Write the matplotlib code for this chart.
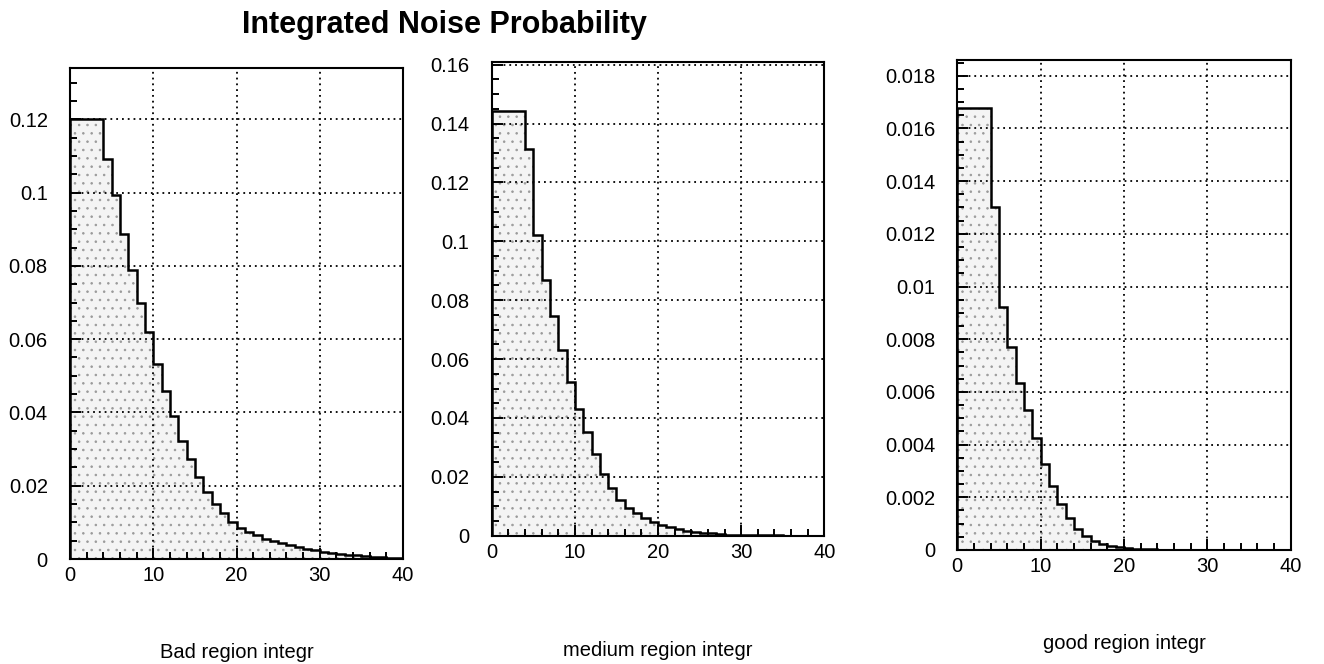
"""
Integrated Noise Probability - three histograms (bad / medium / good region).
"""
import numpy as np
import matplotlib.pyplot as plt
from matplotlib.ticker import MultipleLocator, FuncFormatter

# ------------------------- data -------------------------
edges = np.arange(0, 41)          # bins of width 1 from 0 to 40

bad = [0.1200, 0.1200, 0.1200, 0.1200, 0.1092, 0.0993, 0.0887, 0.0790, 0.0699, 0.0619,
       0.0532, 0.0459, 0.0391, 0.0321, 0.0272, 0.0225, 0.0183, 0.0151, 0.0125, 0.0102,
       0.0086, 0.0075, 0.0066, 0.0056, 0.0049, 0.0043, 0.0037, 0.0032, 0.0027, 0.0024,
       0.0020, 0.0017, 0.0015, 0.0012, 0.0010, 0.0008, 0.0006, 0.0005, 0.0004, 0.0003]

medium = [0.1444, 0.1444, 0.1444, 0.1444, 0.1314, 0.1022, 0.0870, 0.0745, 0.0630, 0.0522,
          0.0432, 0.0351, 0.0276, 0.0211, 0.0161, 0.0121, 0.0093, 0.0076, 0.0059, 0.0047,
          0.0036, 0.0028, 0.0023, 0.0017, 0.0014, 0.0010, 0.0008, 0.0006, 0.0004, 0.0003,
          0.0002, 0.0002, 0.0001, 0.0001, 0.0001, 0.0000, 0.0000, 0.0000, 0.0000, 0.0000]

good = [0.01678, 0.01678, 0.01678, 0.01678, 0.01302, 0.00923, 0.00769, 0.00632, 0.00531, 0.00424,
        0.00326, 0.00243, 0.00173, 0.00120, 0.00078, 0.00053, 0.00034, 0.00023, 0.00015, 0.00010,
        0.00006, 0.00004, 0.00003, 0.00002, 0.00001, 0.00001, 0.0, 0.0, 0.0, 0.0,
        0.0, 0.0, 0.0, 0.0, 0.0, 0.0, 0.0, 0.0, 0.0, 0.0]

labels = ["Bad region integr", "medium region integr", "good region integr"]
series = [bad, medium, good]
ymax = [0.134, 0.161, 0.0186]
ymajor = [0.02, 0.02, 0.002]
yminor = [0.005, 0.005, 0.0005]

# ------------------------- plot -------------------------
plt.rcParams.update({
    'font.family': ['Liberation Sans', 'DejaVu Sans'],
    'font.size': 14.5,
    'hatch.linewidth': 0.6,
})

fig = plt.figure(figsize=(13.24, 6.64), dpi=100)

# axes boxes [left, bottom, width, height] in figure fraction
boxes = [[0.0529, 0.1581, 0.2515, 0.7395],
         [0.3714, 0.1932, 0.2512, 0.7139],
         [0.7230, 0.1717, 0.2518, 0.7380]]
label_y = [0.0166, 0.021, 0.0316]

for box, vals, top, maj, mnr, lab, ly in zip(boxes, series, ymax, ymajor, yminor, labels, label_y):
    ax = fig.add_axes(box)
    ax.stairs(vals, edges, fill=True, facecolor="#f4f4f4", edgecolor="#9a9a9a",
              hatch="..", linewidth=0)
    ax.stairs(vals, edges, color="black", linewidth=1.8)

    ax.set_xlim(0, 40)
    ax.set_ylim(0, top)
    ax.xaxis.set_major_locator(MultipleLocator(10))
    ax.xaxis.set_minor_locator(MultipleLocator(2))
    ax.yaxis.set_major_locator(MultipleLocator(maj))
    ax.yaxis.set_minor_locator(MultipleLocator(mnr))
    ax.yaxis.set_major_formatter(FuncFormatter(lambda v, p: "%g" % round(v, 6)))
    ax.tick_params(which='both', direction='in', width=1.4, top=False, right=False)
    ax.tick_params(which='major', length=8)
    ax.tick_params(which='minor', length=5)
    ax.tick_params(axis='y', pad=16)
    ax.tick_params(axis='x', pad=5)
    ax.grid(True, which='major', color='black', linestyle=(0, (1, 2.2)), linewidth=1.3)
    for sp in ax.spines.values():
        sp.set_linewidth(1.5)

    fig.text(box[0] + box[2] / 2, ly, lab, ha='center', va='center', fontsize=14.5)

fig.text(0.336, 0.962, "Integrated Noise Probability", ha='center', va='center',
         fontsize=22, fontweight='bold')

fig.savefig("out.png", dpi=100)
